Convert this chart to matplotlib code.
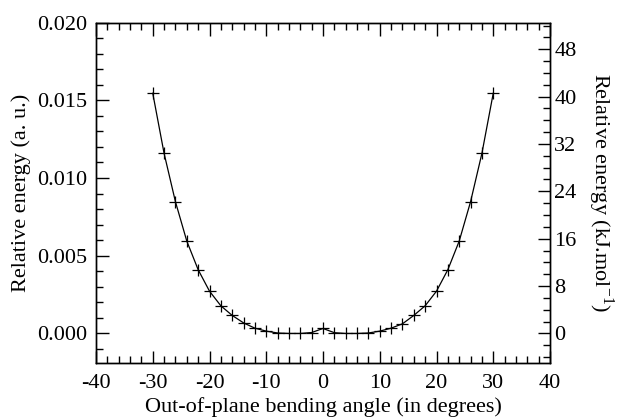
import numpy as np
import matplotlib
matplotlib.use('Agg')
import matplotlib.pyplot as plt
from matplotlib.ticker import MultipleLocator

plt.rcParams['font.family'] = 'Liberation Serif'
plt.rcParams['mathtext.fontset'] = 'custom'
plt.rcParams['mathtext.rm'] = 'Liberation Serif'
plt.rcParams['axes.unicode_minus'] = False

# bending angle (degrees) and relative energy (a.u.)
angle = [-30, -28, -26, -24, -22, -20, -18, -16, -14, -12, -10, -8, -6, -4, -2, 0,
         2, 4, 6, 8, 10, 12, 14, 16, 18, 20, 22, 24, 26, 28, 30]
energy = [0.01545, 0.01158, 0.00847, 0.00594, 0.00410, 0.00272, 0.00178, 0.00116,
          0.00068, 0.00034, 0.00015, 0.00003, 0.0, 0.0, 0.00006, 0.00032,
          0.00005, 0.0, 0.0, 0.00003, 0.00015, 0.00034, 0.00062, 0.00116,
          0.00178, 0.00272, 0.00410, 0.00594, 0.00847, 0.01158, 0.01545]

hartree_kj = 2625.5
ymin, ymax = -0.0019, 0.020

fig = plt.figure(figsize=(6.18, 4.18), dpi=100)
ax = fig.add_axes([96/618, 1-363/418, (550-96)/618, (363-22.5)/418])
ax.plot(angle, energy, color='black', lw=0.9, marker='+', ms=8, mew=0.9)

ax.set_xlim(-40, 40)
ax.set_ylim(ymin, ymax)
ax.xaxis.set_major_locator(MultipleLocator(10))
ax.xaxis.set_minor_locator(MultipleLocator(2))
ax.yaxis.set_major_locator(MultipleLocator(0.005))
ax.yaxis.set_minor_locator(MultipleLocator(0.001))
ax.yaxis.set_major_formatter(matplotlib.ticker.FormatStrFormatter('%.3f'))
ax.tick_params(which='both', direction='in', top=True, labelsize=16, width=1.0)
ax.tick_params(which='major', length=9, pad=6)
ax.tick_params(axis='x', which='major', pad=8)
ax.tick_params(which='minor', length=5)
ax.tick_params(axis='y', which='both', right=False)

ax2 = ax.twinx()
ax2.set_ylim(ymin * hartree_kj, ymax * hartree_kj)
ax2.yaxis.set_major_locator(MultipleLocator(8))
ax2.yaxis.set_minor_locator(MultipleLocator(2))
ax2.tick_params(which='both', direction='in', labelsize=16, width=1.0)
ax2.tick_params(which='major', length=9, pad=3)
ax2.tick_params(which='minor', length=5)

for a in (ax, ax2):
    for s in a.spines.values():
        s.set_linewidth(1.0)

ax.set_xlabel('Out-of-plane bending angle (in degrees)', fontsize=16, labelpad=3)
ax.set_ylabel('Relative energy (a. u.)', fontsize=16, labelpad=5)
ax2.set_ylabel('Relative energy (kJ.mol$^{\\mathregular{-1}}$)', fontsize=16,
               rotation=270, labelpad=28)

fig.savefig('out.png', dpi=100)
